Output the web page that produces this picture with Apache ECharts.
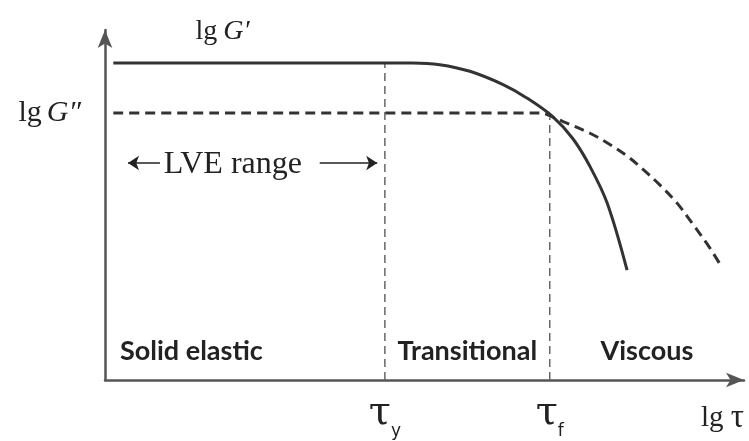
<!DOCTYPE html>
<html>
<head>
<meta charset="utf-8">
<script src="https://cdn.jsdelivr.net/npm/echarts@6/dist/echarts.min.js"></script>
<style>
  html, body { margin: 0; padding: 0; background: #fff; }
  #chart { width: 749px; height: 441px; }
</style>
</head>
<body>
<div id="chart"></div>
<script>
// storage modulus G' (solid) and loss modulus G'' (dashed), x = lg tau (0..100)
var gPrimeX = [1.3, 48.2, 52.4, 57.1, 62.3, 66.0, 70.1, 73.2, 75.9, 78.6, 81.7];
var gPrimeY = [90.6, 90.6, 90.1, 88.2, 84.4, 80.6, 75.2, 69.0, 61.0, 50.5, 31.4];
var gDoubleX = [1.3, 68.1, 70.7, 72.0, 75.9, 79.0, 81.7, 84.2, 86.9, 89.5, 92.0, 94.7, 96.6];
var gDoubleY = [76.3, 76.3, 74.6, 73.6, 70.5, 67.3, 64.0, 60.2, 55.6, 50.6, 44.5, 37.6, 32.0];
// yield stress and flow stress
var tauY = 43.8;
var tauF = 69.6;
var regionNames = ['Solid elastic', 'Transitional', 'Viscous'];

function pairs(xs, ys) {
  var d = [];
  for (let i = 0; i < xs.length; i++) {
    d.push([xs[i], ys[i]]);
  }
  return d;
}

var serif = 'Liberation Serif';
var ink = '#222';
var regionLabel = {
  show: true,
  fontFamily: 'Lato',
  fontWeight: 'bold',
  fontSize: 27,
  color: '#222',
  distance: 15
};

var chart = echarts.init(document.getElementById('chart'));
var option = {
  animation: false,
  grid: { left: 105, right: 5, top: 30, bottom: 61 },
  xAxis: {
    type: 'value',
    min: 0,
    max: 100,
    name: '{n|lg }{t|τ}',
    nameLocation: 'end',
    nameGap: 0,
    nameTextStyle: {
      align: 'right',
      verticalAlign: 'top',
      padding: [22, 0, 0, 0],
      rich: {
        n: { fontFamily: serif, fontSize: 29, color: ink },
        t: { fontFamily: serif, fontSize: 33, color: ink }
      }
    },
    axisLine: {
      lineStyle: { color: '#555', width: 2.5 },
      symbol: ['none', 'arrow'],
      symbolSize: [11, 18]
    },
    axisTick: { show: false },
    splitLine: { show: false },
    axisLabel: {
      customValues: [tauY, tauF],
      margin: 14,
      formatter: function (v) {
        return v === tauY ? '{t|τ}{s|y}' : '{t|τ}{s|f}';
      },
      rich: {
        t: { fontFamily: 'DejaVu Serif', fontSize: 40, color: ink, padding: [0, 0, 6, 0] },
        s: { fontFamily: 'DejaVu Sans', fontSize: 17, color: ink, verticalAlign: 'bottom' }
      }
    }
  },
  yAxis: {
    type: 'value',
    min: 0,
    max: 100,
    axisLine: {
      show: true,
      lineStyle: { color: '#555', width: 2.5 },
      symbol: ['none', 'arrow'],
      symbolSize: [11, 18]
    },
    axisTick: { show: false },
    splitLine: { show: false },
    axisLabel: {
      customValues: [gDoubleY[0]],
      margin: 24,
      formatter: function () {
        return '{n|lg}{i|G″}';
      },
      rich: {
        n: { fontFamily: serif, fontSize: 30, color: ink, padding: [0, 5, 0, 0] },
        i: { fontFamily: serif, fontSize: 30, fontStyle: 'italic', color: ink }
      }
    }
  },
  series: [
    {
      name: "G'",
      type: 'line',
      data: pairs(gPrimeX, gPrimeY),
      smooth: 0.35,
      showSymbol: false,
      lineStyle: { color: '#333', width: 3 },
      z: 5,
      markPoint: {
        symbol: 'circle',
        symbolSize: 0,
        data: [{ coord: [18.4, gPrimeY[0]] }],
        label: {
          show: true,
          offset: [0, -31],
          formatter: '{n|lg}{i|G′}',
          rich: {
            n: { fontFamily: serif, fontSize: 28, color: ink, padding: [0, 6, 0, 0] },
            i: { fontFamily: serif, fontSize: 28, fontStyle: 'italic', color: ink }
          }
        }
      },
      markArea: {
        silent: true,
        itemStyle: { color: 'rgba(0,0,0,0)' },
        data: [
          [{ xAxis: 0, yAxis: 0, label: Object.assign({}, regionLabel, { position: 'insideBottomLeft' }), name: regionNames[0] },
           { xAxis: tauY, yAxis: 100 }],
          [{ xAxis: tauY, yAxis: 0, label: Object.assign({}, regionLabel, { position: 'insideBottom' }), name: regionNames[1] },
           { xAxis: tauF, yAxis: 100 }],
          [{ xAxis: tauF, yAxis: 0, label: Object.assign({}, regionLabel, { position: 'insideBottom' }), name: regionNames[2] },
           { xAxis: 100, yAxis: 100 }]
        ]
      }
    },
    {
      name: "G''",
      type: 'line',
      data: pairs(gDoubleX, gDoubleY),
      smooth: 0.35,
      showSymbol: false,
      lineStyle: { color: '#333', width: 3, type: [10, 6] },
      z: 4,
      markPoint: {
        symbol: 'circle',
        symbolSize: 0,
        data: [{ coord: [20.0, 61.5] }],
        label: {
          show: true,
          formatter: 'LVE range',
          fontFamily: serif,
          fontSize: 32,
          color: ink
        }
      },
      markLine: {
        silent: true,
        symbol: ['arrow', 'none'],
        symbolSize: 11,
        label: { show: false },
        lineStyle: { color: '#222', width: 1.5, type: 'solid' },
        data: [
          [{ coord: [3.6, 62], symbol: 'arrow' }, { coord: [8.6, 62], symbol: 'none' }],
          [{ coord: [33.6, 62], symbol: 'none' }, { coord: [42.6, 62], symbol: 'arrow' }]
        ]
      }
    },
    {
      name: 'tau_y',
      type: 'line',
      data: [[tauY, 0], [tauY, gPrimeY[0]]],
      showSymbol: false,
      lineStyle: { color: '#666', width: 1.5, type: [8, 5] },
      z: 2
    },
    {
      name: 'tau_f',
      type: 'line',
      data: [[tauF, 0], [tauF, 75.0]],
      showSymbol: false,
      lineStyle: { color: '#666', width: 1.5, type: [8, 5] },
      z: 2
    }
  ]
};
chart.setOption(option);
</script>
</body>
</html>
